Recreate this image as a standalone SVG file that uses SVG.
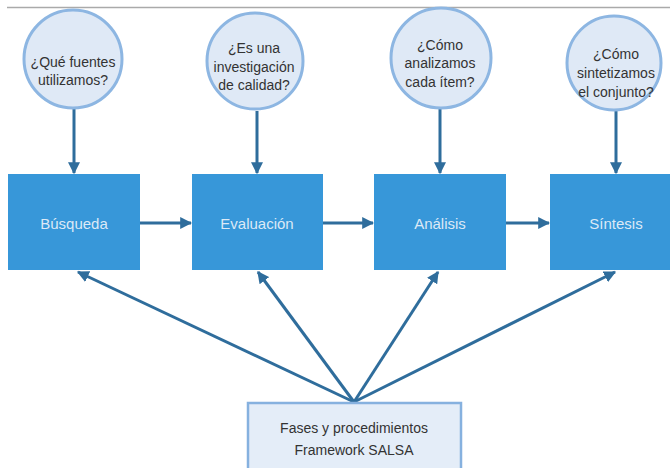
<svg xmlns="http://www.w3.org/2000/svg" width="670" height="468" viewBox="0 0 670 468">
<defs>
<style>
.q{fill:#dfe9f6;stroke:#8db6e2;stroke-width:3}
.qt{font-family:"Liberation Sans",Arial,sans-serif;font-size:14px;fill:#333;text-anchor:middle}
.b{fill:#3797d9}
.bt{font-family:"Liberation Sans",Arial,sans-serif;font-size:15px;fill:#dce9f6;text-anchor:middle}
.f{fill:#e4edf8;stroke:#86b1df;stroke-width:2.5}
.ft{font-family:"Liberation Sans",Arial,sans-serif;font-size:14px;fill:#333;text-anchor:middle}
.c{stroke:#2f6d9c;stroke-width:3;fill:none;marker-end:url(#ah)}
</style>
<marker id="ah" viewBox="0 0 10 10" refX="9" refY="5" markerWidth="4" markerHeight="4" orient="auto" markerUnits="strokeWidth">
<path d="M0,0 L10,5 L0,10 z" fill="#2f6d9c"/>
</marker>
</defs>
<rect width="670" height="468" fill="#fff"/>
<line x1="7" y1="7.5" x2="670" y2="7.5" stroke="#aaa" stroke-width="1.5"/>
<g id="connectors">
<line class="c" x1="74" y1="108" x2="74" y2="173"/>
<line class="c" x1="257" y1="111" x2="257" y2="173"/>
<line class="c" x1="440" y1="109" x2="440" y2="173"/>
<line class="c" x1="616" y1="111" x2="616" y2="173"/>
<line class="c" x1="140" y1="223" x2="191" y2="223"/>
<line class="c" x1="323" y1="223" x2="373" y2="223"/>
<line class="c" x1="506" y1="223" x2="549" y2="223"/>
<line class="c" x1="354" y1="402" x2="78" y2="272"/>
<line class="c" x1="354" y1="402" x2="258" y2="272"/>
<line class="c" x1="354" y1="402" x2="438" y2="272"/>
<line class="c" x1="354" y1="402" x2="615" y2="272"/>
</g>
<g id="q1"><circle class="q" cx="73" cy="59" r="49"/>
<text class="qt" x="73" y="67">¿Qué fuentes</text><text class="qt" x="73" y="85">utilizamos?</text></g>
<g id="q2"><circle class="q" cx="255" cy="61" r="48"/>
<text class="qt" x="254" y="53">¿Es una</text><text class="qt" x="254" y="72">investigación</text><text class="qt" x="254" y="90">de calidad?</text></g>
<g id="q3"><circle class="q" cx="441" cy="58" r="50"/>
<text class="qt" x="440" y="50">¿Cómo</text><text class="qt" x="440" y="68">analizamos</text><text class="qt" x="440" y="87">cada ítem?</text></g>
<g id="q4"><circle class="q" cx="614" cy="63" r="47"/>
<text class="qt" x="616" y="59">¿Cómo</text><text class="qt" x="616" y="78">sintetizamos</text><text class="qt" x="616" y="97">el conjunto?</text></g>
<g id="busqueda"><rect class="b" x="8" y="174" width="132" height="96"/><text class="bt" x="74" y="229">Búsqueda</text></g>
<g id="evaluacion"><rect class="b" x="192" y="174" width="131" height="96"/><text class="bt" x="257" y="229">Evaluación</text></g>
<g id="analisis"><rect class="b" x="374" y="174" width="132" height="96"/><text class="bt" x="440" y="229">Análisis</text></g>
<g id="sintesis"><rect class="b" x="550" y="174" width="120" height="96"/><text class="bt" x="616" y="229">Síntesis</text></g>
<g id="salsa"><rect class="f" x="248" y="403" width="213" height="70"/>
<text class="ft" x="354" y="433">Fases y procedimientos</text><text class="ft" x="354" y="455">Framework SALSA</text></g>
</svg>
